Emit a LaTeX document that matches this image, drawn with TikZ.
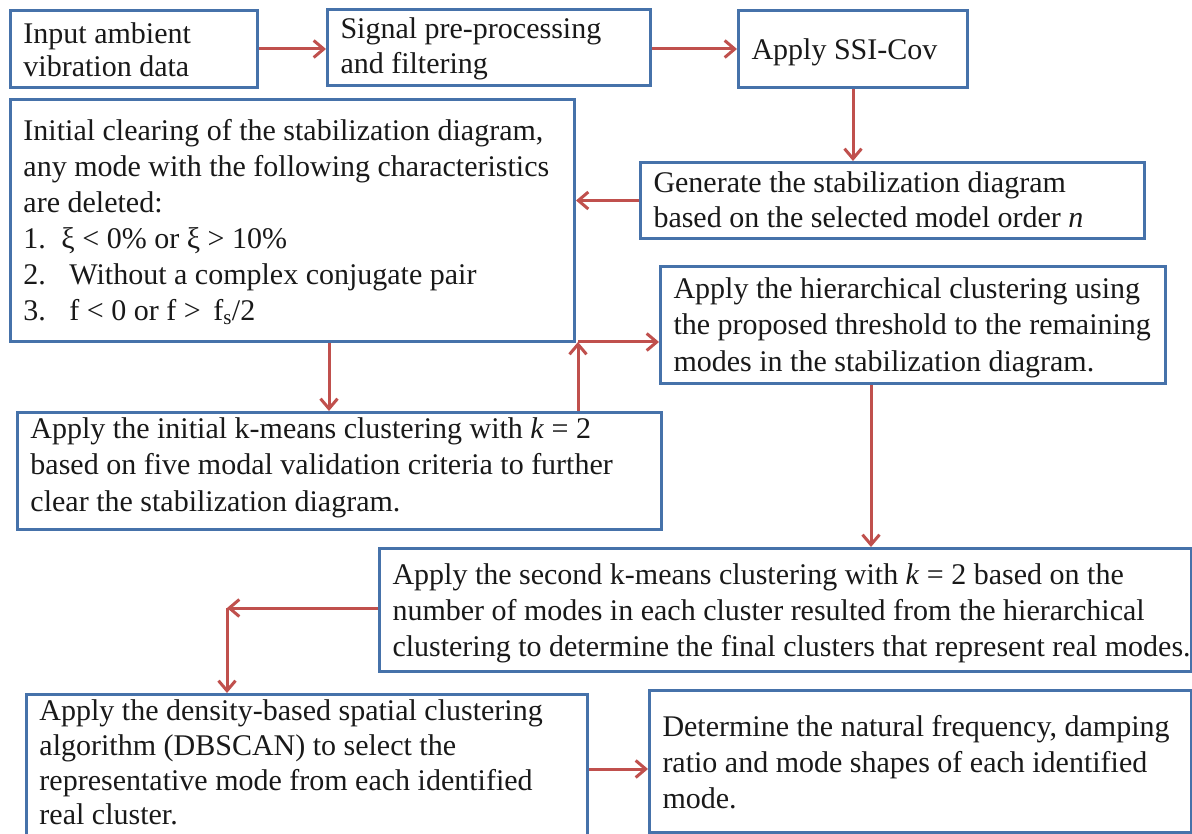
\documentclass[tikz,border=0pt]{standalone}
\usepackage{fontspec}
\setmainfont{Liberation Serif}
\usetikzlibrary{arrows.meta,calc}
\definecolor{boxblue}{RGB}{70,114,170}
\definecolor{arrred}{RGB}{192,80,77}
\definecolor{txt}{RGB}{25,25,25}
\newcommand\fs[1]{\fontsize{30pt}{#1pt}\selectfont}
% #1 width, #2 height, #3 first baseline offset, #4 text
\newcommand\bt[4]{\hspace*{13pt}\parbox[t][#2][t]{\dimexpr#1+17pt\relax}{\vspace*{\dimexpr#3-\ht\strutbox\relax}\strut#4}\hspace*{-30pt}}
\begin{document}
\begin{tikzpicture}[x=1pt,y=-1pt,
  box/.style={draw=boxblue,line width=3pt,inner sep=0pt,anchor=north west,fill=white,text=txt},
  arr/.style={draw=arrred,line width=3pt,-{Straight Barb[length=10pt,width=17pt]}}]
\useasboundingbox[fill=white] (0,0) rectangle (1192,834);

\node[box,font=\fs{33}] (in) at (9,9) {\bt{247pt}{77pt}{33pt}{Input ambient\\vibration data}};
\node[box,font=\fs{35}] (sig) at (326,8) {\bt{323pt}{76pt}{29pt}{Signal pre-processing\\and filtering}};
\node[box,font=\fs{35}] (ssi) at (737,9) {\bt{229pt}{77pt}{49pt}{Apply SSI-Cov}};
\node[box,font=\fs{36}] (clr) at (9,98) {\bt{564pt}{242pt}{41pt}{Initial clearing of the stabilization diagram,\\any mode with the following characteristics\\are deleted:\\\makebox[38pt][l]{1.}ξ < 0\% or ξ > 10\%\\\makebox[46pt][l]{2.}Without a complex conjugate pair\\\makebox[46pt][l]{3.}f < 0 or f > \,f\textsubscript{s}/2}};
\node[box,font=\fs{35}] (gen) at (639,161) {\bt{504pt}{76pt}{30pt}{Generate the stabilization diagram\\based on the selected model order \textit{n}}};
\node[box,font=\fs{36.5}] (hier) at (659,265) {\bt{505pt}{117pt}{32pt}{Apply the hierarchical clustering using\\the proposed threshold to the remaining\\modes in the stabilization diagram.}};
\node[box,font=\fs{36.5}] (km1) at (16,411) {\bt{644pt}{117pt}{26pt}{Apply the initial k-means clustering with \textit{k} = 2\\based on five modal validation criteria to further\\clear the stabilization diagram.}};
\node[box,font=\fs{36}] (km2) at (378,547) {\bt{812pt}{123pt}{36pt}{Apply the second k-means clustering with \textit{k} = 2 based on the\\number of modes in each cluster resulted from the hierarchical\\clustering to determine the final clusters that represent real modes.}};
\node[box,font=\fs{34.8}] (dbs) at (25,693) {\bt{561pt}{170pt}{26pt}{Apply the density-based spatial clustering\\algorithm (DBSCAN) to select the\\representative mode from each identified\\real cluster.}};
\node[box,font=\fs{36}] (det) at (648,689) {\bt{542pt}{142pt}{46pt}{Determine the natural frequency, damping\\ratio and mode shapes of each identified\\mode.}};

\coordinate (c1) at (578,342);
\coordinate (c2) at (227,608);

\draw[arr] (in.east) -- (in.east -| sig.west);
\draw[arr] (ssi.west -| sig.east) -- (ssi.west);
\draw[arr] (ssi.south) -- (ssi.south |- gen.north);
\draw[arr] (gen.west) -- (gen.west -| clr.east);
\draw[arr] ([xshift=320pt]clr.south west) -- ([xshift=320pt]clr.south west |- km1.north);
\draw[arr] (c1 |- km1.north) -- (c1);
\draw[arr] (c1) -- (c1 -| hier.west);
\draw[arr] ([xshift=212pt]hier.south west) -- ([xshift=212pt]hier.south west |- km2.north);
\draw[arr] (km2.west |- c2) -- (c2);
\draw[arr] (c2) -- (c2 |- dbs.north);
\draw[arr] ([yshift=-76pt]dbs.north east) -- ([yshift=-76pt]dbs.north east -| det.west);
\end{tikzpicture}
\end{document}
